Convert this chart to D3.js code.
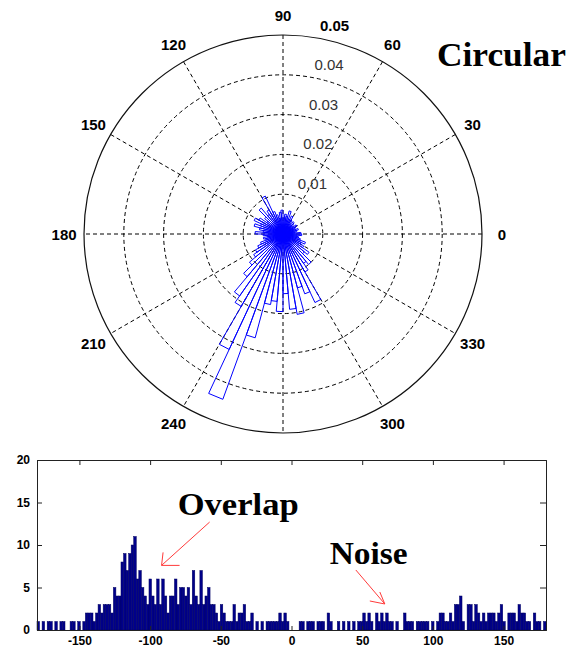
<!DOCTYPE html>
<html>
<head>
<meta charset="utf-8">
<script src="https://cdn.jsdelivr.net/npm/d3@7"></script>
<style>
  html, body { margin: 0; padding: 0; background: #fff; }
  svg { display: block; }
</style>
</head>
<body>
<svg id="chart" width="574" height="650"></svg>
<script>
// ---------- DATA ----------
// Rose (polar histogram): bin start angle (deg), bin width 5 deg, value (probability)
const roseBinWidth = 5;
const roseAngles = [0,5,10,15,20,25,30,35,40,45,50,55,60,65,70,75,80,85,90,95,100,105,110,115,
  120,125,130,135,140,145,150,155,160,165,170,175,180,185,190,195,200,205,210,215,220,225,230,235,
  240,245,250,255,260,265,270,275,280,285,290,295,300,305,310,315,320,325,330,335,340,345,350,355];
const roseValues = [0.0045,0.003,0.0035,0.004,0.003,0.0035,0.004,0.003,0.0035,0.004,0.003,0.004,
  0.005,0.004,0.006,0.0045,0.005,0.004,0.006,0.0055,0.004,0.005,0.006,0.0105,
  0.007,0.006,0.0085,0.006,0.005,0.007,0.008,0.006,0.0075,0.006,0.005,0.007,
  0.005,0.004,0.005,0.0045,0.006,0.007,0.008,0.009,0.011,0.014,0.019,0.021,
  0.032,0.0442,0.027,0.018,0.017,0.0195,0.015,0.019,0.0205,0.014,0.016,0.019,
  0.011,0.009,0.010,0.007,0.008,0.006,0.005,0.006,0.0045,0.004,0.0035,0.0047];
const ringTicks = [0.01, 0.02, 0.03, 0.04, 0.05];
// 270 is hidden in the reference, so it is not listed
const angleTicks = [0,30,60,90,120,150,180,210,240,300,330];

// Linear histogram: 200 bins of 1.8 deg from -180 to 180, counts
const histStart = -180, histBinWidth = 1.8;
const histCounts = [
  1,0,1,0,1,1,0,1,0,1, 1,0,0,1,1,0,1,0,1,2,
  2,2,1,2,3,2,3,3,3,2, 5,4,4,8,9,7,9,10,11,6,
  7,5,4,3,6,4,3,6,3,6, 4,2,4,4,6,3,5,5,4,5,
  3,7,4,3,7,3,4,5,3,3, 2,1,3,2,1,1,1,3,1,2,
  2,3,1,1,2,0,1,0,1,0, 1,1,1,1,1,2,1,2,1,0,
  0,0,0,1,1,0,1,1,1,0, 1,1,1,0,2,1,0,0,1,0,
  1,0,1,0,1,0,1,1,2,1, 2,1,0,2,1,2,1,2,1,1,
  0,1,0,0,2,1,1,1,0,1, 1,1,1,1,0,1,0,1,2,2,
  1,1,2,1,3,3,4,1,0,3, 3,1,3,2,1,2,1,2,2,2,
  1,2,3,1,0,2,2,2,1,3, 2,2,1,1,0,2,1,1,0,1
];
const histXTicks = [-150,-100,-50,0,50,100,150];
const histYTicks = [0,5,10,15,20];

// ---------- DRAW ----------
const svg = d3.select("#chart");
const cx = 283, cy = 234, R = 199;
const r = d3.scaleLinear().domain([0, 0.05]).range([0, R]);
const rad = d => d * Math.PI / 180;
const px = (v, a) => cx + r(v) * Math.cos(rad(a));
const py = (v, a) => cy - r(v) * Math.sin(rad(a));

const polar = svg.append("g");
// dashed rings
polar.selectAll("circle.ring").data(ringTicks.slice(0, -1)).join("circle")
  .attr("cx", cx).attr("cy", cy).attr("r", d => r(d))
  .attr("fill", "none").attr("stroke", "#000").attr("stroke-width", 1)
  .attr("stroke-dasharray", "4,3");
// spokes
polar.selectAll("line.spoke").data([0,30,60,90,120,150]).join("line")
  .attr("x1", d => px(0.05, d)).attr("y1", d => py(0.05, d))
  .attr("x2", d => px(0.05, d + 180)).attr("y2", d => py(0.05, d + 180))
  .attr("stroke", "#000").attr("stroke-width", 1).attr("stroke-dasharray", "4,3");
// outer circle
polar.append("circle").attr("cx", cx).attr("cy", cy).attr("r", r(0.05))
  .attr("fill", "none").attr("stroke", "#111").attr("stroke-width", 1.2);

// ring labels
polar.selectAll("text.rl").data(ringTicks).join("text")
  .attr("x", d => px(d + 0.0005, 82) + 9)
  .attr("y", d => py(d + 0.0005, 82) - 4)
  .attr("font-family", "Arial, 'Liberation Sans', sans-serif")
  .attr("font-size", 15)
  .attr("font-weight", d => d === 0.05 ? "bold" : "normal")
  .attr("fill", d => d === 0.05 ? "#000" : "#333")
  .text(d => d.toFixed(2));

// angle labels
polar.selectAll("text.al").data(angleTicks).join("text")
  .attr("x", d => px(0.055, d)).attr("y", d => py(0.055, d))
  .attr("text-anchor", "middle").attr("dominant-baseline", "central")
  .attr("font-family", "Arial, 'Liberation Sans', sans-serif")
  .attr("font-size", 15).attr("font-weight", "bold").attr("fill", "#000")
  .text(d => d);

// rose petals
polar.selectAll("path.petal").data(roseAngles).join("path")
  .attr("d", (a, i) => {
    const v = roseValues[i];
    return `M${cx},${cy}L${px(v, a)},${py(v, a)}L${px(v, a + roseBinWidth)},${py(v, a + roseBinWidth)}Z`;
  })
  .attr("fill", "none").attr("stroke", "#0000ff").attr("stroke-width", 1);

// title "Circular"
svg.append("text").attr("x", 437).attr("y", 66)
  .attr("font-family", "'Liberation Serif', 'Times New Roman', serif")
  .attr("font-weight", "bold").attr("font-size", 34)
  .attr("textLength", 129).attr("lengthAdjust", "spacingAndGlyphs")
  .attr("fill", "#000").text("Circular");

// ---------- HISTOGRAM ----------
const L = 37, Rt = 546, T = 460, B = 630;
const x = d3.scaleLinear().domain([-180, 180]).range([L, Rt]);
const y = d3.scaleLinear().domain([0, 20]).range([B, T]);
const hist = svg.append("g");

hist.selectAll("rect.bar").data(histCounts).join("rect")
  .attr("x", (d, i) => x(histStart + i * histBinWidth))
  .attr("width", (d, i) => x(histStart + (i + 1) * histBinWidth) - x(histStart + i * histBinWidth))
  .attr("y", d => y(d))
  .attr("height", d => B - y(d))
  .attr("fill", "#00008a")
  .attr("stroke", d => d > 0 ? "#000060" : "none").attr("stroke-width", 0.5);

const fontAx = "Arial, 'Liberation Sans', sans-serif";
const axB = hist.append("g").attr("transform", `translate(0,${B})`)
  .call(d3.axisBottom(x).tickValues(histXTicks).tickSize(-4).tickPadding(6).tickFormat(d3.format("d")));
const axT = hist.append("g").attr("transform", `translate(0,${T})`)
  .call(d3.axisTop(x).tickValues(histXTicks).tickSize(-5).tickFormat(""));
const axL = hist.append("g").attr("transform", `translate(${L},0)`)
  .call(d3.axisLeft(y).tickValues(histYTicks).tickSize(-5).tickPadding(7).tickFormat(d3.format("d")));
const axR = hist.append("g").attr("transform", `translate(${Rt},0)`)
  .call(d3.axisRight(y).tickValues(histYTicks).tickSize(-6).tickFormat(""));
[axB, axT, axL, axR].forEach(g => {
  g.select(".domain").attr("stroke", "#222");
  g.selectAll(".tick line").attr("stroke", "#222");
  g.selectAll("text").attr("font-family", fontAx).attr("font-size", 12)
    .attr("font-weight", "bold").attr("fill", "#000");
});
axB.selectAll(".tick text").text(d => d < 0 ? "-" + Math.abs(d) : d);

// annotations
const red = "#ff3b3b";
const ann = svg.append("g");
ann.append("text").attr("x", x(-80.5)).attr("y", y(13.5))
  .attr("font-family", "'Liberation Serif', 'Times New Roman', serif")
  .attr("font-weight", "bold").attr("font-size", 31)
  .attr("textLength", 121).attr("lengthAdjust", "spacingAndGlyphs")
  .attr("fill", "#000").text("Overlap");
ann.append("text").attr("x", x(27)).attr("y", y(7.76))
  .attr("font-family", "'Liberation Serif', 'Times New Roman', serif")
  .attr("font-weight", "bold").attr("font-size", 31)
  .attr("textLength", 78).attr("lengthAdjust", "spacingAndGlyphs")
  .attr("fill", "#000").text("Noise");

function arrow(x0, y0, x1, y1, b1, b2) {
  ann.append("line").attr("x1", x0).attr("y1", y0).attr("x2", x1).attr("y2", y1)
    .attr("stroke", red).attr("stroke-width", 1);
  [b1, b2].forEach(b => ann.append("line").attr("x1", x1).attr("y1", y1)
    .attr("x2", x1 + b[0]).attr("y2", y1 + b[1]).attr("stroke", red).attr("stroke-width", 1));
}
arrow(x(-57.9), y(12.7), x(-91.9), y(7.6), [1.5, -13], [18, 0]);
arrow(x(45.5), y(7.06), x(66), y(3.06), [-5, -12], [-15, -3]);
</script>
</body>
</html>
